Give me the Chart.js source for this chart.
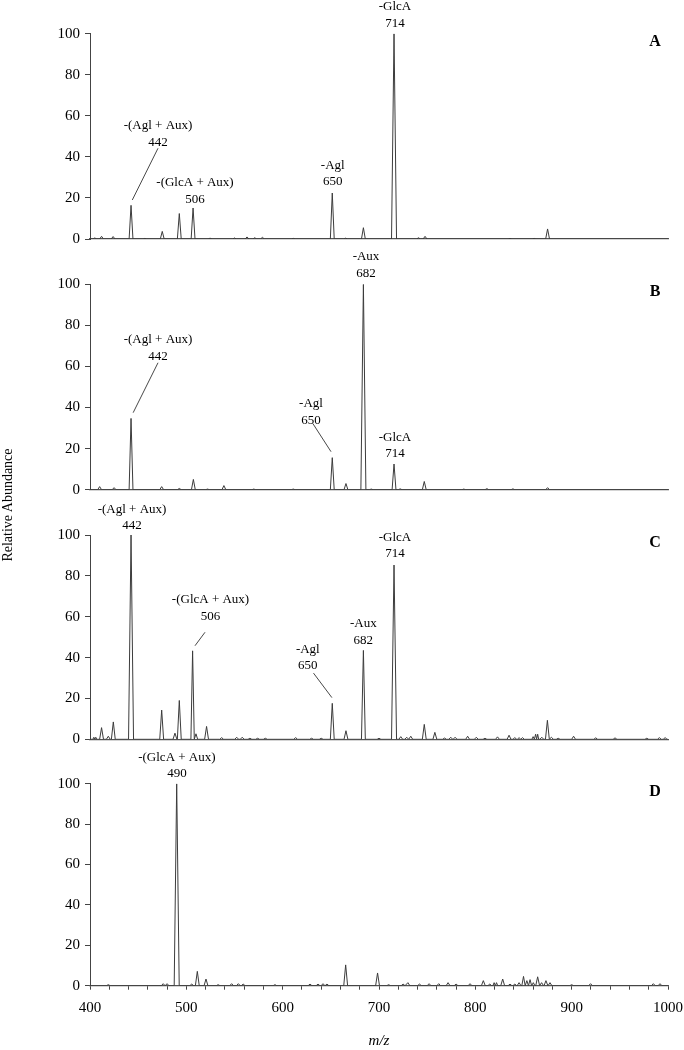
<!DOCTYPE html>
<html>
<head>
<meta charset="utf-8">
<script src="https://cdn.jsdelivr.net/npm/chart.js@4.4.0/dist/chart.umd.min.js"></script>
<style>
  body { margin: 0; background: #fff; width: 684px; height: 1050px; position: relative; overflow: hidden; font-family: "Liberation Serif", serif; }
  canvas { position: absolute; left: 0; }
  #ylab { position: absolute; left: -92px; top: 496px; width: 200px; text-align: center; font-size: 14px; line-height: 18px; transform: rotate(-90deg); color: #000; }
</style>
</head>
<body>
<canvas id="panelA" width="684" height="255" style="top:0px"></canvas>
<canvas id="panelB" width="684" height="255" style="top:245px"></canvas>
<canvas id="panelC" width="684" height="255" style="top:495px"></canvas>
<canvas id="panelD" width="684" height="305" style="top:745px"></canvas>
<div id="ylab">Relative Abundance</div>
<script>
// Peak lists (m/z, relative abundance)
const aMz  = [405, 412, 424, 442.6, 457, 475, 492.7, 507, 524.6, 550, 563, 571, 579, 611, 651.5, 665.4, 683.8, 715.6, 741, 747.8, 836, 861, 875];
const aInt = [0.5, 1.3, 1.2, 16.4, 0.3, 3.7, 12.4, 15.1, 0.4, 0.5, 1.0, 0.6, 0.8, 0.3, 22.4, 0.4, 5.5, 100, 0.6, 1.3, 0.3, 0.3, 4.9];

const bMz  = [410, 425, 442.6, 474.4, 492.7, 507.3, 522, 539, 570, 611, 651.5, 665.7, 683.8, 692, 715.6, 722, 747, 788, 812, 839, 875];
const bInt = [1.5, 1.0, 34.7, 1.5, 0.6, 5.0, 0.3, 2.0, 0.3, 0.3, 15.6, 3.0, 100, 0.3, 12.5, 0.4, 4.0, 0.3, 0.5, 0.4, 1.0];

const cMz  = [404, 406, 412, 419, 424.2, 442.6, 474.4, 488.2, 492.7, 506.5, 510, 521, 536.7, 552.3, 558, 566, 574, 582, 613.5, 630, 640, 651.5, 665.7, 683.8,
              700, 715.6, 722.6, 728.8, 733, 747, 758, 768, 774.5, 779, 792, 801, 810, 823, 835, 841, 845.4, 849, 860, 862.6, 864.7, 869, 874.8, 879, 886, 902, 925, 945, 978, 991, 997];
const cInt = [1.0, 1.0, 5.7, 1.5, 8.5, 100, 14.3, 3.0, 19.0, 43.3, 2.7, 6.3, 0.8, 1.0, 1.0, 0.5, 0.5, 0.5, 0.8, 0.5, 0.5, 17.6, 4.2, 43.5,
              0.5, 85.3, 1.3, 1.0, 1.5, 7.3, 3.4, 0.6, 1.0, 1.0, 1.5, 1.0, 0.5, 1.2, 2.0, 0.8, 0.8, 0.8, 1.3, 2.5, 2.5, 1.0, 9.3, 1.0, 0.5, 1.5, 0.7, 0.7, 0.5, 0.8, 0.8];

const dMz  = [419, 476, 480, 490, 505.6, 511.4, 520.4, 533, 547, 554, 559, 592, 628.4, 636.7, 641.9, 646, 665.4, 698.5, 710, 725, 730, 742, 752, 762, 771.7,
              780, 794.5, 808.3, 815, 819.5, 822, 828.4, 836, 841, 845.4, 850, 853.5, 856.8, 860.2, 864.7, 868.8, 873.3, 877.5, 900, 919.6, 984.8, 991.7];
const dInt = [0.5, 1.0, 1.0, 100, 0.8, 7.1, 3.3, 0.5, 1.0, 1.0, 0.8, 0.5, 0.8, 0.8, 1.0, 0.8, 10.3, 6.3, 0.5, 0.8, 1.5, 0.8, 1.0, 1.0, 1.5,
              0.8, 1.0, 2.5, 0.8, 1.5, 1.5, 3.3, 0.8, 0.8, 1.5, 4.6, 2.5, 3.0, 1.5, 4.4, 1.5, 2.5, 1.5, 0.5, 1.0, 1.0, 1.0];

const xTicks = [400, 500, 600, 700, 800, 900, 1000];
const yTicks = [0, 20, 40, 60, 80, 100];

// Fragment annotations: text lines, anchor (m/z, abundance), optional leader line
const aLabels = [
  { lines: ['-GlcA', '714'], mz: 716.6, v: 113.2 },
  { lines: ['-(Agl + Aux)', '442'], mz: 470.6, v: 55.2, lead: [470.6, 44.2, 443.9, 19] },
  { lines: ['-(GlcA + Aux)', '506'], mz: 509, v: 27.4 },
  { lines: ['-Agl', '650'], mz: 652, v: 36 }
];
const bLabels = [
  { lines: ['-Aux', '682'], mz: 686.5, v: 113.4 },
  { lines: ['-(Agl + Aux)', '442'], mz: 470.6, v: 72.9, lead: [470.6, 61.8, 444.8, 37.5] },
  { lines: ['-Agl', '650'], mz: 629.4, v: 41.7, lead: [631.2, 32.3, 650.2, 18.5] },
  { lines: ['-GlcA', '714'], mz: 716.6, v: 25.5 }
];
const cLabels = [
  { lines: ['-(Agl + Aux)', '442'], mz: 443.6, v: 112.6 },
  { lines: ['-GlcA', '714'], mz: 716.6, v: 98.9 },
  { lines: ['-(GlcA + Aux)', '506'], mz: 525.1, v: 68.2, lead: [519.4, 52.4, 509, 45.8] },
  { lines: ['-Aux', '682'], mz: 683.7, v: 56.4 },
  { lines: ['-Agl', '650'], mz: 626.1, v: 44, lead: [632, 32.4, 651.1, 20.4] }
];
const dLabels = [
  { lines: ['-(GlcA + Aux)', '490'], mz: 490.2, v: 113.1 }
];

const SERIF = '"Liberation Serif", "Times New Roman", serif';

// turn a stick list into a line profile with a zero baseline
function profile(mz, inten) {
  const pts = [{ x: 400, y: 0 }];
  for (let i = 0; i < mz.length; i++) {
    const prev = i > 0 ? mz[i - 1] : 390;
    const next = i < mz.length - 1 ? mz[i + 1] : 1010;
    const hw = Math.min(inten[i] > 50 ? 2.6 : 2, (mz[i] - prev) / 2, (next - mz[i]) / 2);
    pts.push({ x: mz[i] - hw, y: 0 }, { x: mz[i], y: inten[i] }, { x: mz[i] + hw, y: 0 });
  }
  pts.push({ x: 1000, y: 0 });
  return pts;
}

const labelPlugin = {
  id: 'peakLabels',
  afterDraw(chart, args, opts) {
    const c = chart.ctx, xs = chart.scales.x, ys = chart.scales.y;
    c.save();
    c.fillStyle = '#000';
    c.textAlign = 'center';
    c.textBaseline = 'middle';
    c.font = '13px ' + SERIF;
    opts.items.forEach(l => {
      const px = xs.getPixelForValue(l.mz), py = ys.getPixelForValue(l.v);
      l.lines.forEach((t, i) => c.fillText(t, px, py + i * 16.5));
      if (l.lead) {
        c.strokeStyle = '#333';
        c.lineWidth = 0.9;
        c.beginPath();
        c.moveTo(xs.getPixelForValue(l.lead[0]), ys.getPixelForValue(l.lead[1]));
        c.lineTo(xs.getPixelForValue(l.lead[2]), ys.getPixelForValue(l.lead[3]));
        c.stroke();
      }
    });
    // panel letter
    c.font = 'bold 16px ' + SERIF;
    c.fillText(opts.letter, chart.chartArea.right - 13, chart.chartArea.top + 8);
    c.restore();
  }
};

function makePanel(id, mz, inten, labels, letter, top, xh, bottomAxis) {
  new Chart(document.getElementById(id), {
    type: 'line',
    data: {
      datasets: [{
        data: profile(mz, inten),
        borderColor: '#3c3c3c',
        borderWidth: 1,
        pointRadius: 0,
        tension: 0,
        fill: false
      }]
    },
    options: {
      responsive: false,
      animation: false,
      layout: { padding: { top: top, right: 16, left: 0, bottom: 0 } },
      plugins: {
        legend: { display: false },
        tooltip: { enabled: false },
        peakLabels: { items: labels, letter: letter }
      },
      scales: {
        x: {
          type: 'linear',
          min: 400,
          max: 1000,
          afterFit: s => { s.height = xh; s.paddingLeft = 0; s.paddingRight = 0; },
          border: { color: '#555', width: 1.2 },
          grid: { drawOnChartArea: false, drawTicks: bottomAxis, tickLength: 4, color: '#444' },
          ticks: {
            display: bottomAxis,
            stepSize: 20,
            autoSkip: false,
            maxRotation: 0,
            padding: 9,
            color: '#000',
            font: { family: SERIF, size: 15 },
            callback: v => xTicks.includes(v) ? v : ''
          },
          title: {
            display: bottomAxis,
            text: 'm/z',
            color: '#000',
            padding: { top: 0, bottom: 0 },
            font: { family: SERIF, size: 15, style: 'italic' }
          }
        },
        y: {
          min: 0,
          max: 100,
          afterFit: s => { s.width = 90; s.paddingTop = 0; s.paddingBottom = 0; },
          afterBuildTicks: s => { s.ticks = yTicks.map(v => ({ value: v })); },
          border: { color: '#444', width: 1 },
          grid: { drawOnChartArea: false, tickLength: 5, color: '#444' },
          ticks: { padding: 5, color: '#000', font: { family: SERIF, size: 15 } }
        }
      }
    },
    plugins: [labelPlugin]
  });
}

makePanel('panelA', aMz, aInt, aLabels, 'A', 33.7, 16, false);
makePanel('panelB', bMz, bInt, bLabels, 'B', 39.3, 10.3, false);
makePanel('panelC', cMz, cInt, cLabels, 'C', 40, 10.7, false);
makePanel('panelD', dMz, dInt, dLabels, 'D', 38.7, 64.3, true);
</script>
</body>
</html>
